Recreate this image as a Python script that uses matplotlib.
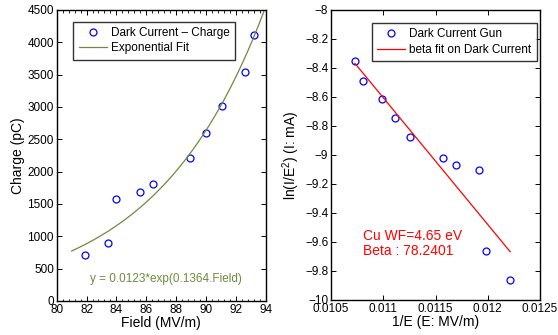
import numpy as np
import matplotlib
matplotlib.use("Agg")
import matplotlib.pyplot as plt
from matplotlib.ticker import FuncFormatter, AutoMinorLocator, MultipleLocator

plt.rcParams['font.family'] = ['Liberation Sans', 'DejaVu Sans']
plt.rcParams['mathtext.fontset'] = 'custom'
plt.rcParams['mathtext.rm'] = 'Liberation Sans'
plt.rcParams['mathtext.default'] = 'regular'

# Left panel data
field = [81.92, 83.46, 83.99, 85.56, 86.43, 88.91, 90.02, 91.07, 92.61, 93.24]
charge = [707, 892, 1577, 1681, 1814, 2207, 2593, 3020, 3541, 4113]
fit_a = 0.0123
fit_b = 0.1364
fit_range = [81, 94]

# Right panel data
inv_e = [0.010729, 0.010803, 0.010985, 0.011115, 0.011255, 0.011574, 0.011695, 0.011912, 0.011985, 0.012214]
ln_ie2 = [-8.350, -8.487, -8.612, -8.743, -8.878, -9.019, -9.071, -9.101, -9.664, -9.860]
beta_fit_x = [0.010729, 0.012214]
beta_fit_y = [-8.368, -9.667]

olive = '#6e8b3d'
fig = plt.figure(figsize=(5.58, 3.35), dpi=100)
axL = fig.add_axes([0.1016, 0.1015, 0.3746, 0.8687])
axR = fig.add_axes([0.5932, 0.1045, 0.3746, 0.8657])

fmt = FuncFormatter(lambda v, p: ('%g' % v).replace('-', '\u2212'))

# Left
axL.plot(field, charge, 'o', mfc='none', mec='blue', ms=5, mew=0.9, label='Dark Current \u2013 Charge')
fx = np.linspace(fit_range[0], fit_range[1], 200)
axL.plot(fx, fit_a * np.exp(fit_b * fx), '-', color=olive, lw=0.9, label='Exponential Fit')
axL.set_xlim(80, 94)
axL.set_ylim(0, 4500)
axL.xaxis.set_major_locator(MultipleLocator(2))
axL.yaxis.set_major_locator(MultipleLocator(500))
axL.xaxis.set_minor_locator(AutoMinorLocator(5))
axL.set_xlabel('Field (MV/m)', fontsize=10, labelpad=0)
axL.set_ylabel('Charge (pC)', fontsize=10, labelpad=2)
axL.text(87.3, 340, 'y = 0.0123*exp(0.1364.Field)', color=olive, fontsize=8.5, ha='center', va='center')
legL = axL.legend(loc='upper left', bbox_to_anchor=(0.08, 0.96), fontsize=8.5, frameon=True,
                  fancybox=False, edgecolor='black', borderpad=0.45, handlelength=2.4,
                  handletextpad=0.35, labelspacing=0.3, borderaxespad=0)
legL.get_frame().set_linewidth(1.0)

# Right
axR.plot(inv_e, ln_ie2, 'o', mfc='none', mec='blue', ms=5, mew=0.9, label='Dark Current Gun')
axR.plot(beta_fit_x, beta_fit_y, '-', color='red', lw=0.9, label='beta fit on Dark Current')
axR.set_xlim(0.0105, 0.0125)
axR.set_ylim(-10, -8)
axR.xaxis.set_major_locator(MultipleLocator(0.0005))
axR.yaxis.set_major_locator(MultipleLocator(0.2))
axR.xaxis.set_major_formatter(fmt)
axR.yaxis.set_major_formatter(fmt)
axR.set_xlabel('1/E (E: MV/m)', fontsize=10, labelpad=0)
axR.set_ylabel(r'ln(I/E$^{2}$) (I: mA)', fontsize=10, labelpad=2)
axR.text(0.010809, -9.557, 'Cu WF=4.65 eV', color='red', fontsize=10, ha='left', va='center')
axR.text(0.010809, -9.662, 'Beta : 78.2401', color='red', fontsize=10, ha='left', va='center')
legR = axR.legend(loc='upper right', bbox_to_anchor=(0.985, 0.955), fontsize=8.5, frameon=True,
                  fancybox=False, edgecolor='black', borderpad=0.45, handlelength=2.4,
                  handletextpad=0.35, labelspacing=0.3, borderaxespad=0)
legR.get_frame().set_linewidth(1.0)

for ax in (axL, axR):
    ax.tick_params(which='both', direction='in', top=True, right=True, labelsize=8.5, pad=2)
    ax.tick_params(which='major', length=3.5, width=0.7)
    ax.tick_params(which='minor', length=1.8, width=0.6)
    for s in ax.spines.values():
        s.set_linewidth(1.0)

fig.savefig('out.png', dpi=100)
